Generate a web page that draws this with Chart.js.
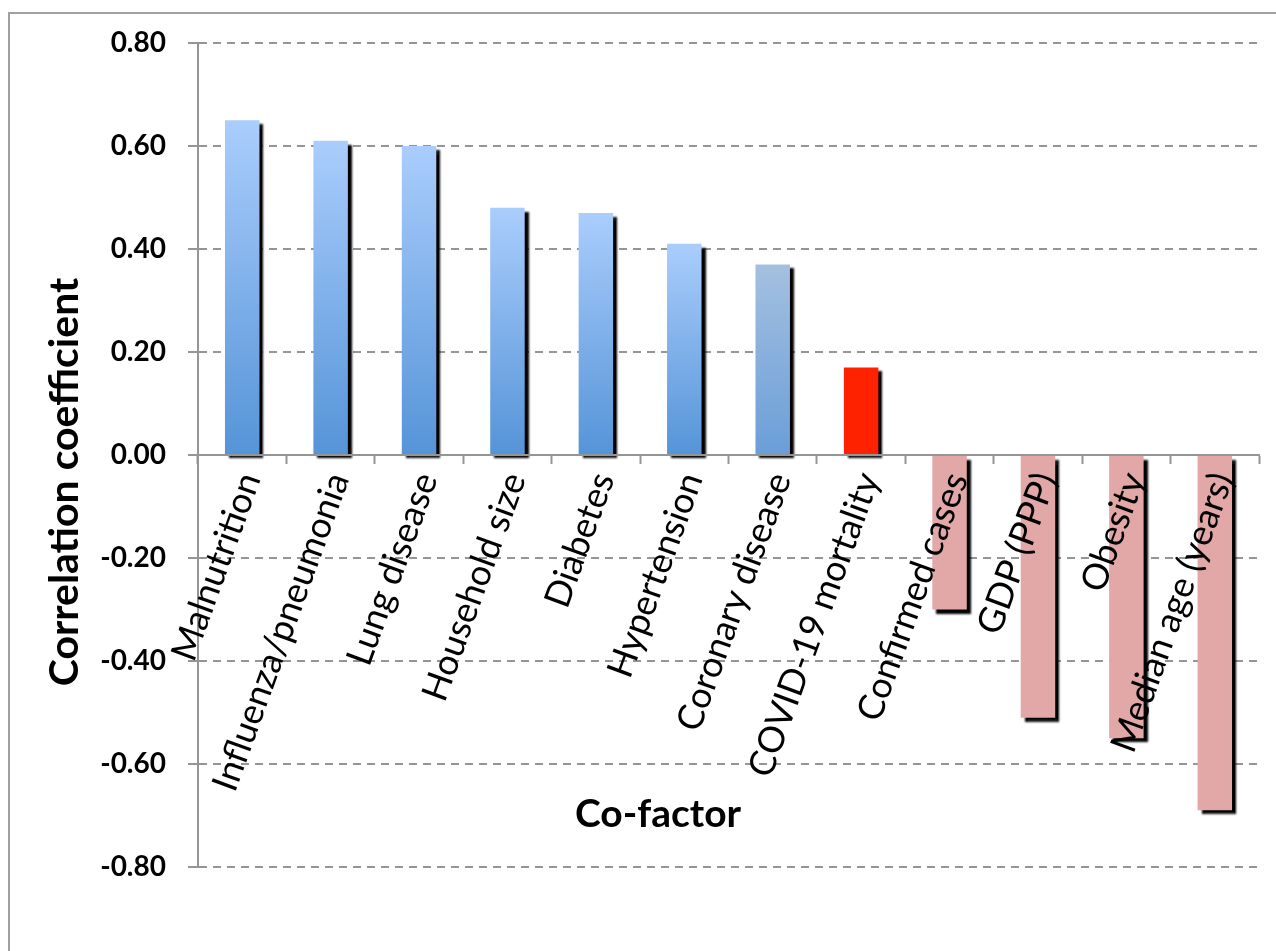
<!DOCTYPE html>
<html>
<head>
<meta charset="utf-8">
<script src="https://cdn.jsdelivr.net/npm/chart.js@4.4.1/dist/chart.umd.min.js"></script>
<style>
  html, body { margin: 0; padding: 0; background: #ffffff; }
  #chart { display: block; }
</style>
</head>
<body>
<canvas id="chart" width="1276" height="951"></canvas>
<script>
// Co-factors and their correlation coefficients
const categories = [
  'Malnutrition', 'Influenza/pneumonia', 'Lung disease', 'Household size',
  'Diabetes', 'Hypertension', 'Coronary disease', 'COVID-19 mortality',
  'Confirmed cases', 'GDP (PPP)', 'Obesity', 'Median age (years)'
];
const correlation = [0.65, 0.61, 0.60, 0.48, 0.47, 0.41, 0.37, 0.17, -0.30, -0.51, -0.55, -0.69];
const yTickValues = [-0.8, -0.6, -0.4, -0.2, 0, 0.2, 0.4, 0.6, 0.8];
const xTitle = 'Co-factor';
const yTitle = 'Correlation coefficient';

// Fill for each bar: [top colour, bottom colour]
const barFills = [
  ['#aacdfc', '#5594d8'], ['#aacdfc', '#5594d8'], ['#aacdfc', '#5594d8'],
  ['#aacdfc', '#5594d8'], ['#aacdfc', '#5594d8'], ['#aacdfc', '#5594d8'],
  ['#a4c0e0', '#6a9ed8'], ['#ff2200', '#ff2200'], ['#e2a8a8', '#e2a8a8'],
  ['#e2a8a8', '#e2a8a8'], ['#e2a8a8', '#e2a8a8'], ['#e2a8a8', '#e2a8a8']
];

const GRID = '#959595';
const FONT = 'Lato, "Open Sans", sans-serif';

// white page with a thin frame around the figure
const framePlugin = {
  id: 'frame',
  beforeDraw(chart) {
    const ctx = chart.ctx;
    ctx.save();
    ctx.fillStyle = '#ffffff';
    ctx.fillRect(0, 0, chart.width, chart.height);
    ctx.strokeStyle = '#a0a0a0';
    ctx.lineWidth = 2;
    ctx.beginPath();
    ctx.moveTo(9, chart.height + 5);
    ctx.lineTo(9, 13);
    ctx.lineTo(chart.width + 5, 13);
    ctx.stroke();
    ctx.restore();
  }
};

// drop shadow under the bars
const shadowPlugin = {
  id: 'barShadow',
  beforeDatasetsDraw(chart) {
    const ctx = chart.ctx;
    ctx.save();
    ctx.shadowColor = 'rgba(0,0,0,1)';
    ctx.shadowBlur = 2;
    ctx.shadowOffsetX = 4;
    ctx.shadowOffsetY = 4;
  },
  afterDatasetsDraw(chart) {
    chart.ctx.restore();
  }
};

// axis titles
const axisTitlePlugin = {
  id: 'axisTitles',
  afterDraw(chart) {
    const ctx = chart.ctx;
    ctx.save();
    ctx.fillStyle = '#000000';
    ctx.textAlign = 'center';
    ctx.textBaseline = 'alphabetic';
    ctx.font = 'bold 39px ' + FONT;
    ctx.fillText(xTitle, 658, 827);
    ctx.translate(78, 482);
    ctx.rotate(-Math.PI / 2);
    ctx.font = 'bold 41px ' + FONT;
    ctx.fillText(yTitle, 0, 0);
    ctx.restore();
  }
};

function barFill(c) {
  const i = c.dataIndex;
  if (i === undefined || !barFills[i]) return barFills[0][1];
  const [top, bottom] = barFills[i];
  if (top === bottom) return top;
  const y = c.chart.scales.y;
  if (!y) return bottom;
  const y0 = y.getPixelForValue(correlation[i]);
  const y1 = y.getPixelForValue(0);
  if (!isFinite(y0) || !isFinite(y1) || y0 === y1) return bottom;
  const g = c.chart.ctx.createLinearGradient(0, y0, 0, y1);
  g.addColorStop(0, top);
  g.addColorStop(1, bottom);
  return g;
}

new Chart(document.getElementById('chart'), {
  type: 'bar',
  data: {
    labels: categories,
    datasets: [{
      data: correlation,
      backgroundColor: barFill,
      borderWidth: 0,
      categoryPercentage: 1,
      barPercentage: 0.39
    }]
  },
  plugins: [framePlugin, shadowPlugin, axisTitlePlugin],
  options: {
    responsive: false,
    devicePixelRatio: 1,
    animation: false,
    layout: { padding: { left: 0, top: 43, right: 17, bottom: 84 } },
    plugins: { legend: { display: false }, tooltip: { enabled: false } },
    scales: {
      x: {
        position: { y: 0 },
        grid: {
          offset: true,
          drawOnChartArea: false,
          drawTicks: true,
          tickLength: 8,
          tickWidth: 2,
          tickColor: GRID
        },
        border: { display: true, color: GRID, width: 2, z: 1 },
        ticks: {
          z: 1,
          autoSkip: false,
          minRotation: 70,
          maxRotation: 70,
          padding: 4,
          labelOffset: 8,
          color: '#000000',
          font: { family: FONT, size: 36, weight: 'normal' }
        }
      },
      y: {
        min: -0.8,
        max: 0.8,
        afterFit(scale) { scale.width = 198; },
        afterBuildTicks(scale) { scale.ticks = yTickValues.map(v => ({ value: v })); },
        grid: {
          color: GRID,
          lineWidth: 2,
          drawTicks: true,
          tickLength: 10,
          tickWidth: 2,
          tickColor: GRID,
          tickBorderDash: []
        },
        border: { display: true, color: GRID, width: 2, dash: [8, 6] },
        ticks: {
          padding: 22,
          color: '#000000',
          font: { family: FONT, size: 28, weight: 'bold' },
          callback: v => Number(v).toFixed(2)
        }
      }
    }
  }
});
</script>
</body>
</html>
